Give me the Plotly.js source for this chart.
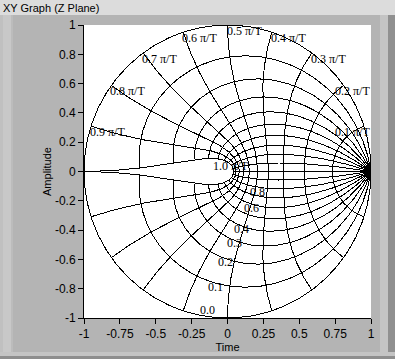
<!DOCTYPE html>
<html><head><meta charset="utf-8">
<script src="https://cdn.plot.ly/plotly-3.0.1.min.js"></script>
<style>html,body{margin:0;padding:0;background:#b4b4b4;overflow:hidden}#chart{width:395px;height:359px}#chart path.js-line{shape-rendering:crispEdges}</style>
</head><body><div id="chart"></div><script>
// damping-ratio grid values and natural-frequency grid values (wn in units of pi/T)
const zetaValues = [0.0, 0.1, 0.2, 0.3, 0.4, 0.5, 0.6, 0.7, 0.8, 0.9, 1.0];
const wnValues = [0.1, 0.2, 0.3, 0.4, 0.5, 0.6, 0.7, 0.8, 0.9, 1.0];
const wnLabels = ['0.1 π/T','0.2 π/T','0.3 π/T','0.4 π/T','0.5 π/T','0.6 π/T','0.7 π/T','0.8 π/T','0.9 π/T','1.0 π/T'];
const zetaLabelValues = [0.0, 0.1, 0.2, 0.3, 0.4, 0.6, 0.8];
const zetaLabels = ['0.0','0.1','0.2','0.3','0.4','0.6','0.8'];
const xTickVals = [-1, -0.75, -0.5, -0.25, 0, 0.25, 0.5, 0.75, 1];
const xTickText = ['-1','-0.75','-0.5','-0.25','0','0.25','0.5','0.75','1'];
const yTickVals = [-1, -0.8, -0.6, -0.4, -0.2, 0, 0.2, 0.4, 0.6, 0.8, 1];
const yTickText = ['-1','-0.8','-0.6','-0.4','-0.2','0','0.2','0.4','0.6','0.8','1'];

// layout-only settings
const zetaLabelW = 0.56;          // position along each damping curve where its label sits
const wnOneLabelPos = [-0.109, 0.079];

// z = exp(sT), s = w*pi*(-d + j*sqrt(1-d^2)); the damping ratio is mapped as d = sin(zeta*pi/2)
function zp(d, w, sgn){
  const r = Math.exp(-d*w*Math.PI);
  const th = sgn*w*Math.PI*Math.sqrt(Math.max(0,1-d*d));
  return [r*Math.cos(th), r*Math.sin(th)];
}
const dmap = z => Math.sin(z*Math.PI/2);
const N = 240;
const traces = [];
const line = {color:'#000', width:1};
zetaValues.forEach(z => {
  const d = dmap(z), x=[], y=[];
  [1,-1].forEach(s => {
    for(let i=0;i<=N;i++){ const p=zp(d,i/N,s); x.push(p[0]); y.push(p[1]); }
    x.push(null); y.push(null);
  });
  traces.push({type:'scatter', mode:'lines', x, y, line, hoverinfo:'skip', showlegend:false});
});
wnValues.forEach(w => {
  const x=[], y=[];
  [1,-1].forEach(s => {
    for(let i=0;i<=N;i++){ const d=Math.sin(i/N*Math.PI/2); const p=zp(d,w,s); x.push(p[0]); y.push(p[1]); }
    x.push(null); y.push(null);
  });
  traces.push({type:'scatter', mode:'lines', x, y, line, hoverinfo:'skip', showlegend:false});
});

const W=395,H=359,ML=84,MR=24,MT=25,MB=41;
const PW=W-ML-MR, PH=H-MT-MB;
const px=(p)=>(p-ML)/PW, py=(p)=>(H-MB-p)/PH;
const rect=(x0,x1,y0,y1,c)=>({type:'rect',xref:'paper',yref:'paper',x0:px(x0),x1:px(x1),y0:py(y1),y1:py(y0),fillcolor:c,line:{width:0},layer:'below'});
const shapes=[
  rect(0,W,0,15,'#dcdcdc'),
  rect(0,3,15,H,'#c0c0c0'),
  rect(3,11,15,H,'#c8c8c8'),
  rect(11,13,15,H,'#bcbcbc'),
  rect(380,388,15,H,'#c4c4c4'),
  rect(388,W,15,H,'#909090'),
  rect(0,W,352,356,'#c4c4c4'),
  rect(0,W,356,H,'#8e8e8e')
];

const serif = {family:'Liberation Serif, Times New Roman, serif', size:12, color:'#000'};
const annotations=[];
wnValues.forEach((w,i)=>{
  if(w>=1) return;
  const p=zp(0,w,1);
  const clamp = p[0]+0.27>1;
  annotations.push({x:clamp?1:p[0], y:p[1], xref:'x', yref:'y', text:wnLabels[i], showarrow:false,
    xanchor:clamp?'right':'left', yanchor:'top', yshift:2, xshift:clamp?0:-2, font:serif, borderpad:0});
});
annotations.push({x:wnOneLabelPos[0], y:wnOneLabelPos[1], xref:'x', yref:'y', text:wnLabels[9], showarrow:false,
  xanchor:'left', yanchor:'top', yshift:2, font:serif, borderpad:0});
zetaLabelValues.forEach((z,i)=>{
  const p=zp(dmap(z),zetaLabelW,-1);
  const clamp = p[1]-0.09 < -1;
  annotations.push({x:p[0], y:clamp?-1:p[1], xref:'x', yref:'y', text:zetaLabels[i], showarrow:false,
    xanchor:'left', yanchor:clamp?'bottom':'top', yshift:clamp?0:2, xshift:-2, font:serif, borderpad:0});
});
annotations.push({x:px(1), y:py(8), xref:'paper', yref:'paper', text:'XY Graph (Z Plane)', showarrow:false,
  xanchor:'left', yanchor:'middle', font:{family:'Liberation Sans, Arial, sans-serif', size:11, color:'#000'}});

const sans={family:'Liberation Sans, Arial, sans-serif', size:12, color:'#000'};
const titleFont={family:'Liberation Sans, Arial, sans-serif', size:11, color:'#000'};
const layout={
  width:W, height:H, margin:{l:ML,r:MR,t:MT,b:MB,pad:0},
  paper_bgcolor:'#b4b4b4', plot_bgcolor:'#ffffff', showlegend:false,
  xaxis:{range:[-1,1], tickvals:xTickVals, ticktext:xTickText, ticks:'outside', ticklen:5, tickcolor:'#000',
    showgrid:false, zeroline:false, showline:true, linecolor:'#000', linewidth:1, tickfont:sans,
    title:{text:'Time', font:titleFont, standoff:1}, fixedrange:true},
  yaxis:{range:[-1,1], tickvals:yTickVals, ticktext:yTickText, ticks:'outside', ticklen:5, tickcolor:'#000',
    showgrid:false, zeroline:false, showline:true, linecolor:'#000', linewidth:1, tickfont:sans,
    title:{text:'Amplitude', font:titleFont, standoff:1}, fixedrange:true},
  shapes, annotations
};
Plotly.newPlot('chart', traces, layout, {displayModeBar:false, staticPlot:true});
</script></body></html>
